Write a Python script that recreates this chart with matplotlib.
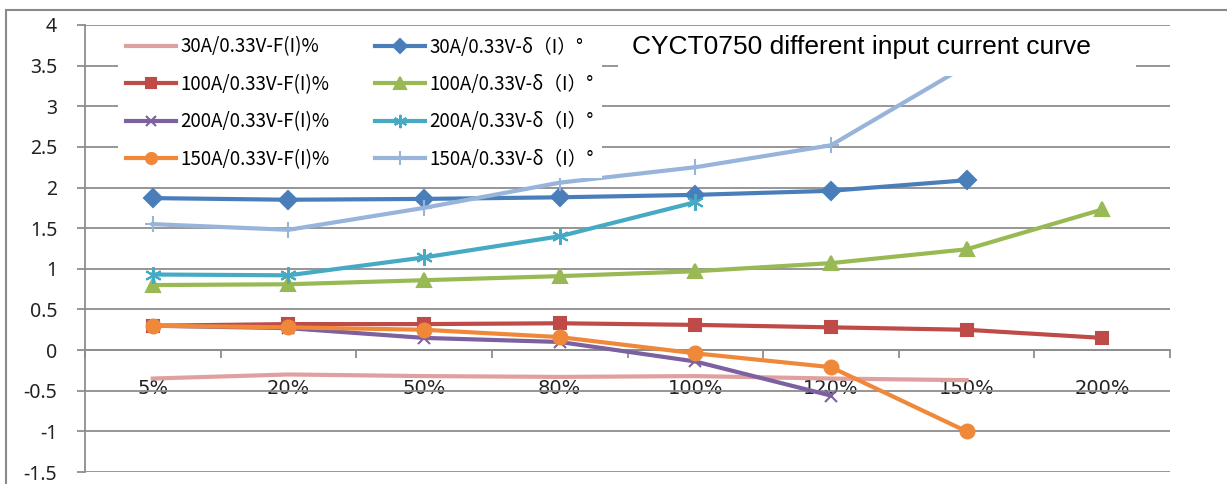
import matplotlib.pyplot as plt
from matplotlib.patches import Rectangle
import numpy as np

# categories (input current as % of rated)
categories = ['5%', '20%', '50%', '80%', '100%', '120%', '150%', '200%']

# ratio error F(I)% series
f_30a = [-0.35, -0.30, -0.32, -0.33, -0.32, -0.35, -0.37]
f_100a = [0.30, 0.32, 0.32, 0.33, 0.31, 0.28, 0.25, 0.15]
f_200a = [0.30, 0.27, 0.15, 0.10, -0.14, -0.56]
f_150a = [0.30, 0.28, 0.25, 0.16, -0.04, -0.21, -1.00]

# phase error delta(I) series
d_30a = [1.87, 1.85, 1.86, 1.88, 1.91, 1.96, 2.09]
d_100a = [0.80, 0.81, 0.86, 0.91, 0.97, 1.07, 1.24, 1.73]
d_200a = [0.93, 0.92, 1.14, 1.40, 1.82]
d_150a = [1.55, 1.48, 1.75, 2.06, 2.25, 2.52, 3.50]

f_labels = ['30A/0.33V-F(I)%', '100A/0.33V-F(I)%', '200A/0.33V-F(I)%', '150A/0.33V-F(I)%']
d_labels = ['30A/0.33V-δ（I）°', '100A/0.33V-δ（I）°', '200A/0.33V-δ（I）°', '150A/0.33V-δ（I）°']

W, H = 1227, 484
fig = plt.figure(figsize=(W / 100, H / 100), dpi=100)
ax = fig.add_axes([85/W, 12/H, 1085/W, 447/H])

x = np.arange(len(categories))
styles = [
    (f_30a, '#E0A09F', None, 0),
    (f_100a, '#BE4B48', 's', 9),
    (f_200a, '#7D60A0', 'x', 9),
    (f_150a, '#F0883A', 'o', 10),
    (d_30a, '#4A7EBB', 'D', 9),
    (d_100a, '#98B954', '^', 10),
    (d_200a, '#46AAC5', (6, 2, 0), 12),
    (d_150a, '#98B4DA', '+', 12),
]
handles = []
for vals, c, m, ms in styles:
    h, = ax.plot(x[:len(vals)], vals, color=c, lw=3, marker=m, markersize=ms,
                 markeredgewidth=1.5, zorder=3)
    handles.append(h)

ax.set_xlim(-0.5, 7.5)
ax.set_ylim(-1.5, 4)

for s in ['top', 'right']:
    ax.spines[s].set_visible(False)
ax.spines['bottom'].set_position(('data', 0))
ax.spines['bottom'].set_color('#8E8E8E')
ax.spines['bottom'].set_linewidth(1.3)
ax.spines['left'].set_color('#8E8E8E')
ax.spines['left'].set_linewidth(1.3)

ax.set_yticks(np.arange(-1.5, 4.01, 0.5))
ax.set_yticklabels(['-1.5', '-1', '-0.5', '0', '0.5', '1', '1.5', '2', '2.5', '3', '3.5', '4'],
                   fontsize=14, family='Noto Sans', color='#222222')
ax.grid(axis='y', color='#8E8E8E', lw=1.3)
ax.set_axisbelow(True)

ax.set_xticks(x)
ax.set_xticklabels(categories)
ax.set_xticks(np.arange(-0.5, 7.6, 1), minor=True)
ax.tick_params(axis='x', which='major', length=0, pad=21, labelsize=14, labelcolor='#222222')
ax.tick_params(axis='x', which='minor', length=6, color='#8E8E8E', width=1.3, direction='out')
ax.tick_params(axis='y', length=6, color='#8E8E8E', width=1.3, pad=14)

leg = ax.legend(handles, f_labels + d_labels, ncol=2, loc='upper left',
                bbox_to_anchor=(33/1085, 1 - 4/447), borderaxespad=0,
                frameon=True, fancybox=False,
                prop={'family': ['Noto Sans CJK SC', 'DejaVu Sans'], 'size': 13.5},
                handlelength=2.67, handletextpad=0.27, columnspacing=2.38,
                labelspacing=0.88, borderpad=0.4, markerscale=0.8)
leg.get_frame().set_edgecolor('none')
leg.get_frame().set_facecolor('white')
leg.get_frame().set_alpha(1)
leg.set_zorder(5)

# title box covering gridlines and curve
fig.patches.append(Rectangle((618/W, 1 - 76/H), (1136 - 618)/W, 48/H, transform=fig.transFigure,
                             facecolor='white', edgecolor='none', zorder=6))
fig.text((630 + 1092) / 2 / W, 1 - 47 / H, 'CYCT0750 different input current curve',
         ha='center', va='center', fontsize=19, family='Liberation Sans', zorder=7)

# outer chart border
fig.patches.append(Rectangle((6/W, -0.1), 1.2, 1 - 10/H + 0.1, transform=fig.transFigure,
                             fill=False, edgecolor='#8A8A8A', lw=1.5, zorder=8))

fig.savefig('out.png', dpi=100)
